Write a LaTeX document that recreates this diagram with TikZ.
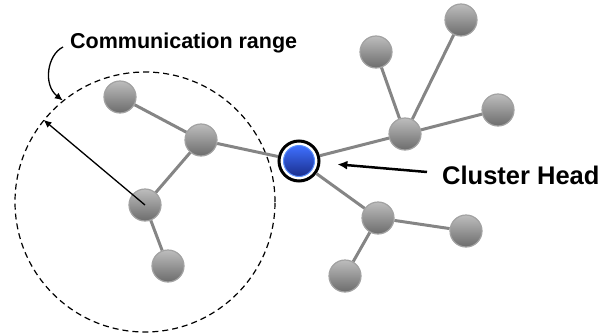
\documentclass[tikz,border=0pt]{standalone}
\usepackage{fontspec}
\setmainfont{Liberation Sans}
\usetikzlibrary{arrows.meta,calc}

\definecolor{ballhi}{HTML}{BDBDBD}
\definecolor{balllo}{HTML}{6C6C6C}
\definecolor{ballrim}{HTML}{A2A2A2}
\definecolor{linkgray}{HTML}{858585}
\definecolor{chhi}{HTML}{3F70FF}
\definecolor{chlo}{HTML}{1A2E8C}
\definecolor{chrim}{HTML}{5A90FF}

\tikzset{
  sensor/.style={circle,minimum size=32pt,inner sep=0pt,draw=ballrim,line width=1.2pt,top color=ballhi,bottom color=balllo},
  headcore/.style={circle,minimum size=31pt,inner sep=0pt,draw=chrim,line width=1pt,top color=chhi,bottom color=chlo},
  headring/.style={circle,minimum size=40pt,inner sep=0pt,draw=black,line width=3pt,fill=white},
  link/.style={draw=linkgray,line width=3pt},
}

\begin{document}
\begin{tikzpicture}[x=1pt,y=-1pt]
\useasboundingbox (0,0) rectangle (605,332);

% range of one sensor
\node [circle,draw,line width=1.2pt,dash pattern=on 6pt off 4pt,minimum size=260pt,inner sep=0pt] (range) at (145,202) {};

\def\sensors{s1/120/97,s2/201/140,s3/145/205,s4/168/266,s5/376/52,s6/461/20,s7/405/134,s8/498/110,s9/378/218,s10/466/231,s11/345/276}
\foreach \name / \x / \y in \sensors
  \node [sensor] (\name) at (\x,\y) {};

\node [headring] (ch) at (299,161) {};
\node [headcore] (chcore) at (ch) {};

\def\links{s1/s2,s2/s3,s3/s4,s2/ch,ch/s7,s7/s5,s7/s6,s7/s8,ch/s9,s9/s10,s9/s11}
\foreach \a / \b in \links
  \draw [link] (\a) -- (\b);

\draw [-{Latex[length=8pt,width=7pt]},line width=1.3pt] (s3.center) -- (range.141);

% labels
\node [anchor=base west,inner sep=0pt,font=\fontsize{21.5}{24}\selectfont\bfseries] (rangelabel) at (70,48) {Communication range};
\node [anchor=base west,inner sep=0pt,font=\fontsize{25.5}{28}\selectfont\bfseries] (chlabel) at (442,184) {Cluster Head};

\coordinate (rangetail) at (63,47);
\draw [-{Latex[length=8pt,width=7pt]},line width=1.3pt] (rangetail) .. controls (47,55) and (43,85) .. (range.129);

\coordinate (chtail) at (427,172);
\draw [-{Latex[length=10pt,width=9pt]},line width=2.5pt,shorten >=17pt] (chtail) -- (ch);

\end{tikzpicture}
\end{document}
